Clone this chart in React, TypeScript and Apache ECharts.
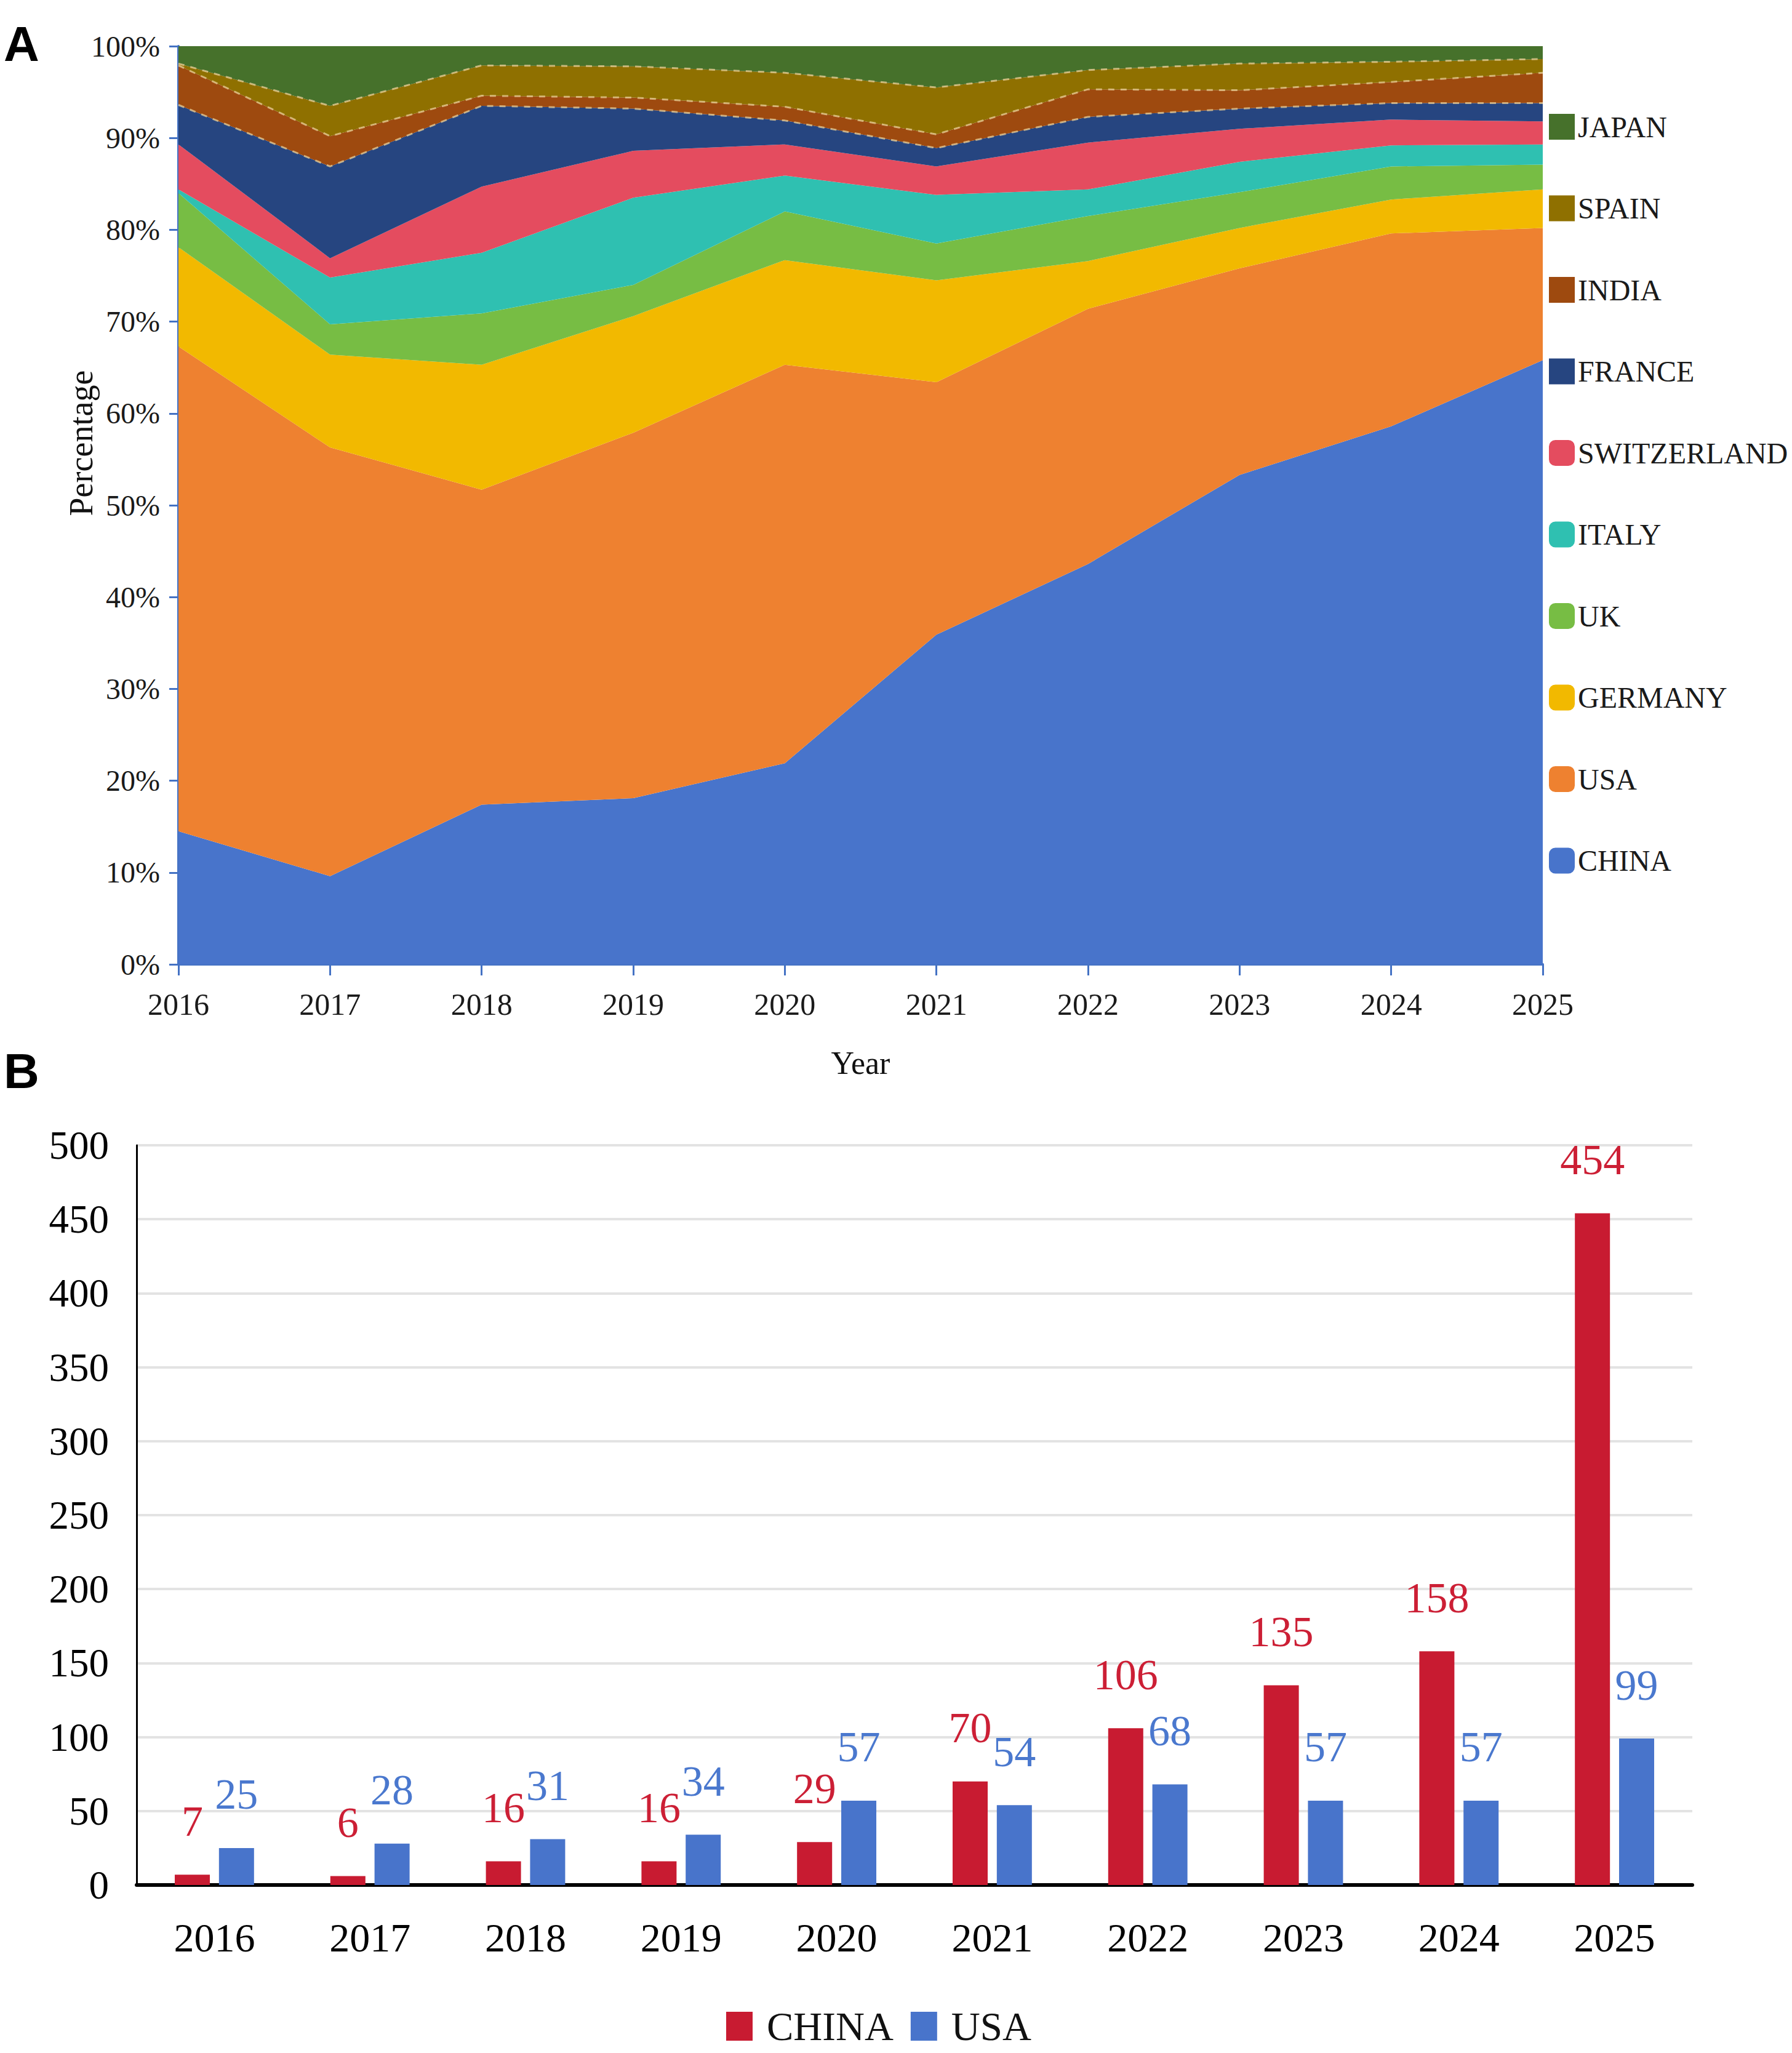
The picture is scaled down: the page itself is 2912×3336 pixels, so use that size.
import React, { useEffect, useRef } from "react";
import * as echarts from "echarts";

const years = ["2016", "2017", "2018", "2019", "2020", "2021", "2022", "2023", "2024", "2025"];

// Panel A: share of publications (%) per country, stacked bottom -> top
const chinaShare = [14.5, 9.6, 17.4, 18.1, 21.9, 35.9, 43.6, 53.3, 58.6, 65.8];
const usaShare = [52.8, 46.7, 34.3, 39.8, 43.4, 27.5, 27.8, 22.5, 21.0, 14.4];
const germanyShare = [10.8, 10.1, 13.6, 12.7, 11.4, 11.1, 5.2, 4.4, 3.7, 4.2];
const ukShare = [5.9, 3.3, 5.6, 3.4, 5.3, 4.0, 4.9, 3.9, 3.6, 2.7];
const italyShare = [0.4, 5.1, 6.6, 9.5, 3.9, 5.3, 2.9, 3.3, 2.3, 2.2];
const switzerlandShare = [4.9, 2.1, 7.2, 5.1, 3.4, 3.1, 5.1, 3.6, 2.8, 2.5];
const franceShare = [4.3, 10.0, 8.8, 4.6, 2.6, 2.0, 2.8, 2.2, 1.8, 2.0];
const indiaShare = [4.3, 3.3, 1.1, 1.2, 1.5, 1.5, 3.0, 2.0, 2.3, 3.3];
const spainShare = [0.2, 3.3, 3.3, 3.4, 3.7, 5.1, 2.1, 2.9, 2.2, 1.5];
const japanShare = [1.9, 6.5, 2.1, 2.2, 2.9, 4.5, 2.6, 1.9, 1.7, 1.4];

const legendOrderA = ["JAPAN", "SPAIN", "INDIA", "FRANCE", "SWITZERLAND", "ITALY", "UK", "GERMANY", "USA", "CHINA"];
const squareIcons = ["JAPAN", "SPAIN", "INDIA", "FRANCE"];

// Panel B: counts
const chinaCount = [7, 6, 16, 16, 29, 70, 106, 135, 158, 454];
const usaCount = [25, 28, 31, 34, 57, 54, 68, 57, 57, 99];

const SERIF = '"Liberation Serif", "Times New Roman", serif';
const SANS = '"Liberation Sans", Arial, sans-serif';

const areaSeriesDefs = [
  { name: "CHINA", data: chinaShare, color: "#4874CB", dashed: false },
  { name: "USA", data: usaShare, color: "#EE8130", dashed: false },
  { name: "GERMANY", data: germanyShare, color: "#F2B900", dashed: false },
  { name: "UK", data: ukShare, color: "#77BD44", dashed: false },
  { name: "ITALY", data: italyShare, color: "#2FC0B1", dashed: false },
  { name: "SWITZERLAND", data: switzerlandShare, color: "#E44C5F", dashed: false },
  { name: "FRANCE", data: franceShare, color: "#264580", dashed: true },
  { name: "INDIA", data: indiaShare, color: "#9E4A0F", dashed: true },
  { name: "SPAIN", data: spainShare, color: "#8F7000", dashed: true },
  { name: "JAPAN", data: japanShare, color: "#46712B", dashed: false },
];

const blueAxis = "#4472C4";

const CHART_A_H = 1800;
const CHART_B_TOP = 1800;
const CHART_B_H = 3336 - CHART_B_TOP;

const optionA: any = {
  animation: false,
  backgroundColor: "transparent",
  grid: { left: 290, right: 405, top: 75, bottom: CHART_A_H - 1567, containLabel: false, outerBoundsMode: "none" },
  legend: {
    orient: "vertical",
    left: 2512,
    top: 177,
    itemWidth: 42,
    itemHeight: 42,
    itemGap: 84.5,
    selectedMode: false,
    data: legendOrderA.map((n) => ({ name: n, icon: squareIcons.includes(n) ? "rect" : "roundRect" })),
    textStyle: { fontFamily: SERIF, fontSize: 48, color: "#1a1a1a" },
  },
  xAxis: {
    type: "category",
    boundaryGap: false,
    data: years,
    name: "Year",
    nameLocation: "middle",
    nameGap: 134,
    nameTextStyle: { fontFamily: SERIF, fontSize: 52, color: "#111" },
    axisLine: { lineStyle: { color: blueAxis, width: 4 } },
    axisTick: { show: true, length: 18, lineStyle: { color: blueAxis, width: 3 } },
    axisLabel: { fontFamily: SERIF, fontSize: 50, color: "#1a1a1a", margin: 40 },
    splitLine: { show: false },
  },
  yAxis: {
    type: "value",
    min: 0,
    max: 100,
    interval: 10,
    axisLine: { show: true, lineStyle: { color: blueAxis, width: 4 } },
    axisTick: { show: true, length: 15, lineStyle: { color: blueAxis, width: 3 } },
    axisLabel: { formatter: "{value}%", fontFamily: SERIF, fontSize: 48, color: "#1a1a1a", margin: 30 },
    splitLine: { show: false },
  },
  series: areaSeriesDefs.map((s) => ({
    name: s.name,
    type: "line",
    stack: "share",
    data: s.data,
    symbol: "none",
    smooth: false,
    color: s.color,
    itemStyle: { color: s.color },
    areaStyle: { color: s.color, opacity: 1 },
    lineStyle: s.dashed
      ? { color: "rgba(232,205,150,0.75)", width: 3, type: [10, 10] }
      : { width: 0, color: s.color },
    emphasis: { disabled: true },
  })),
  graphic: [
    {
      type: "text",
      x: 6,
      y: 71,
      style: { text: "A", font: `bold 80px ${SANS}`, fill: "#000", verticalAlign: "middle", align: "left" },
    },
    {
      type: "text",
      x: 132,
      y: 720,
      rotation: Math.PI / 2,
      style: { text: "Percentage", font: `54px ${SERIF}`, fill: "#111", verticalAlign: "middle", align: "center" },
    },
    {
      type: "text",
      x: 6,
      y: 1740,
      style: { text: "B", font: `bold 80px ${SANS}`, fill: "#000", verticalAlign: "middle", align: "left" },
    },
  ],
};

const redBar = "#C81B31";
const blueBar = "#4874CB";

const optionB: any = {
  animation: false,
  backgroundColor: "transparent",
  grid: { left: 222, right: 162, top: 1861 - CHART_B_TOP, bottom: 3336 - 3063, containLabel: false, outerBoundsMode: "none" },
  legend: {
    left: 1175,
    top: 3288 - CHART_B_TOP - 33,
    itemWidth: 43,
    itemHeight: 47,
    itemGap: 28,
    icon: "rect",
    selectedMode: false,
    data: ["CHINA", "USA"],
    textStyle: { fontFamily: SERIF, fontSize: 65, color: "#111", padding: [0, 0, 0, 18] },
  },
  xAxis: {
    type: "category",
    data: years,
    axisLine: { lineStyle: { color: "#000", width: 6 } },
    axisTick: { show: false },
    axisLabel: { fontFamily: SERIF, fontSize: 66, color: "#000", margin: 52 },
  },
  yAxis: {
    type: "value",
    min: 0,
    max: 500,
    interval: 50,
    axisLine: { show: true, lineStyle: { color: "#000", width: 3 } },
    axisTick: { show: false },
    axisLabel: { fontFamily: SERIF, fontSize: 65, color: "#000", margin: 45 },
    splitLine: { show: true, lineStyle: { color: "#e3e3e3", width: 4 } },
  },
  series: [
    {
      name: "CHINA",
      type: "bar",
      data: chinaCount,
      barWidth: 57,
      barGap: "26%",
      itemStyle: { color: redBar },
      label: { show: true, position: "top", distance: 52, fontFamily: SERIF, fontSize: 70, color: "#CC1F35" },
      emphasis: { disabled: true },
    },
    {
      name: "USA",
      type: "bar",
      data: usaCount,
      barWidth: 57,
      barGap: "26%",
      itemStyle: { color: blueBar },
      label: { show: true, position: "top", distance: 52, fontFamily: SERIF, fontSize: 70, color: "#4A78CE" },
      emphasis: { disabled: true },
    },
  ],
};

export default function App() {
  const refA = useRef<HTMLDivElement>(null);
  const refB = useRef<HTMLDivElement>(null);

  useEffect(() => {
    const chartA = echarts.init(refA.current as HTMLDivElement, null, { renderer: "svg" });
    const chartB = echarts.init(refB.current as HTMLDivElement, null, { renderer: "svg" });
    chartA.setOption(optionA);
    chartB.setOption(optionB);
    return () => {
      chartA.dispose();
      chartB.dispose();
    };
  }, []);

  return (
    <div style={{ position: "absolute", left: 0, top: 0, width: 2912, height: 3336, background: "#fff" }}>
      <div ref={refA} style={{ position: "absolute", left: 0, top: 0, width: 2912, height: CHART_A_H }} />
      <div ref={refB} style={{ position: "absolute", left: 0, top: CHART_B_TOP, width: 2912, height: CHART_B_H }} />
    </div>
  );
}
